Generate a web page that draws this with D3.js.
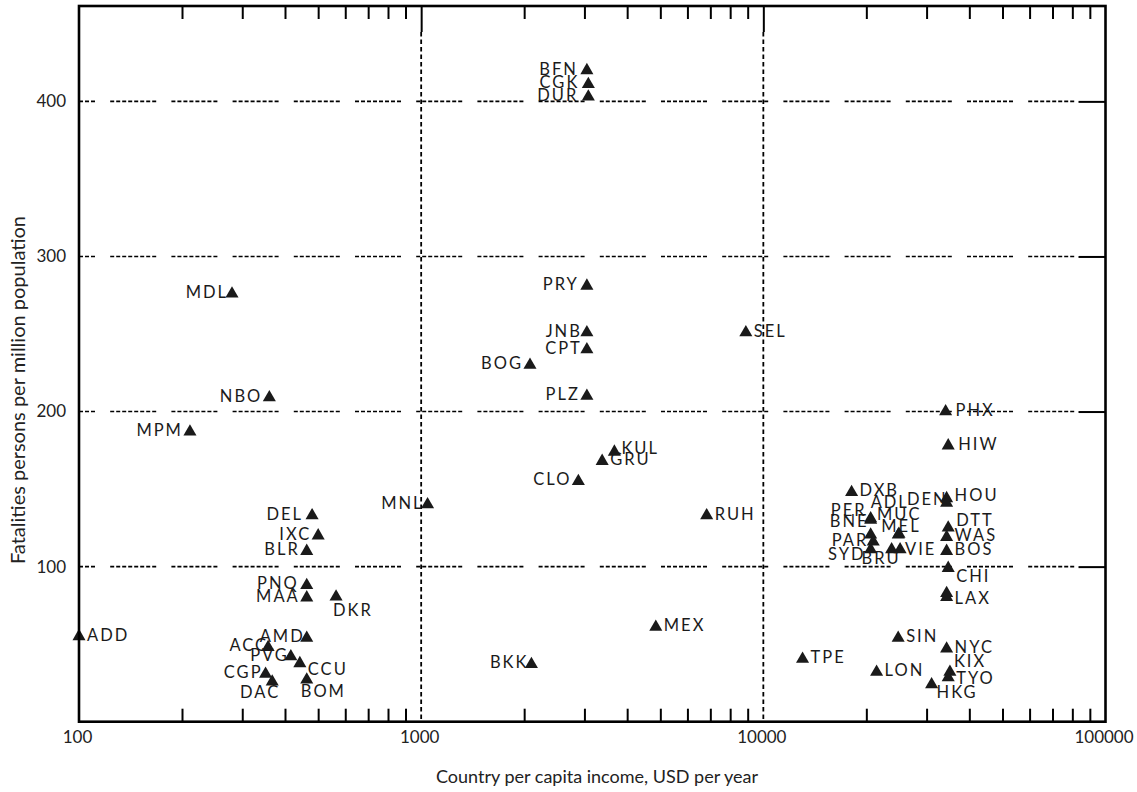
<!DOCTYPE html>
<html>
<head>
<meta charset="utf-8">
<script src="https://cdn.jsdelivr.net/npm/d3@7"></script>
<style>
  body { margin: 0; background: #fff; }
  svg { display: block; }
  .lbl { font-family: Lato, "Open Sans", sans-serif; font-size: 16.5px; letter-spacing: 2px; fill: #1b1b1b; }
  .tick text { font-family: Lato, sans-serif; font-size: 17px; fill: #222; }
  .title { font-family: Lato, sans-serif; fill: #222; }
</style>
</head>
<body>
<div id="chart"></div>
<script>
// city codes, per capita income (USD/yr), fatalities per million
const codes = [
  "BFN", "CGK", "DUR", "MDL", "PRY", "JNB", "CPT", "SEL", "BOG", "PLZ",
  "NBO", "MPM", "PHX", "HIW", "KUL", "GRU", "CLO", "MNL", "DEL", "RUH",
  "DXB", "HOU", "DEN", "ADL", "PER", "BNE", "PAR", "SYD", "BRU", "VIE",
  "MUC", "MEL", "DTT", "WAS", "BOS", "CHI", "LAX", "", "SIN", "NYC",
  "KIX", "TYO", "HKG", "LON", "TPE", "MEX", "BKK", "ADD", "AMD", "ACC",
  "PVG", "CCU", "CGP", "DAC", "BOM", "IXC", "BLR", "PNQ", "MAA", "DKR"
]
const income = [
  3050, 3080, 3080, 280, 3050, 3050, 3050, 8890, 2080, 3050,
  360, 211, 34100, 34700, 3670, 3380, 2880, 1044, 480, 6830,
  18110, 34330, 34330, 20590, 20590, 20590, 20950, 20590, 23710, 25100,
  24910, 24800, 34700, 34330, 34330, 34700, 34330, 34330, 24780, 34330,
  35100, 34700, 31030, 21430, 13020, 4850, 2100, 100, 463, 357,
  416, 442, 351, 367, 463, 500, 463, 463, 463, 564
]
const fatalities = [
  420, 411, 403, 276, 281, 251, 240, 251, 230, 210,
  209, 187, 200, 178, 174, 168, 155, 140, 133, 133,
  148, 144, 141, 131, 130, 120.5, 116, 111, 111, 111,
  121, 120.5, 125, 119, 110, 99, 80.2, 82.8, 54, 47,
  32, 28.5, 24, 32, 40.4, 61, 37, 55, 54, 48,
  42, 37.6, 30.7, 25.8, 27, 120, 110, 88, 80, 80.6
]
const xTickLabels = [100, 1000, 10000, 100000]
const yTickLabels = [100, 200, 300, 400]

// label placement next to each triangle: [anchor, dx, dy]
const L = ["end", -7, 0], R = ["start", 8, 0]
const placement = {
  BFN: ["end", -9, 0], CGK: ["end", -9, 0], DUR: ["end", -10, 0], PRY: ["end", -8, 0],
  DEL: ["end", -9, 0], PNQ: ["end", -8, 0],
  ADL: ["start", 0, -15], PER: ["end", -4, -8], BNE: ["end", -2, -12],
  PAR: ["end", -5, 0], SYD: ["end", -5, 6], BRU: ["start", -30, 10],
  VIE: ["start", 5, 1], MUC: ["start", -22, -18], MEL: ["start", -17, -7],
  DEN: ["end", 1, -2], HOU: ["start", 8, -2], DTT: ["start", 8, -6],
  CHI: ["start", 8, 10], LAX: ["start", 8, 3], KIX: ["start", 4, -9],
  TYO: ["start", 8, 2], HKG: ["start", 5, 9], CCU: ["start", 8, 7],
  DAC: ["end", 8, 12], BOM: ["start", -6, 13], DKR: ["start", -3, 15],
  AMD: ["end", -2, 0], ACC: ["end", 0, 0], PVG: ["end", -2, 0],
  CGP: ["end", -3, 0], BKK: ["end", -3, 0], KUL: ["start", 7, -2],
  MDL: ["end", -4, 0], CPT: ["end", -5, 0], JNB: ["end", -5, 0], MNL: ["end", -4, 0],
  SEL: R, GRU: R, RUH: R, MEX: R, ADD: R, TPE: R, LON: R, SIN: R,
  NYC: R, DXB: R, PHX: ["start", 10, 0], HIW: ["start", 10, 0], WAS: R, BOS: R
}

const W = 1137, H = 792
const plotL = 79, plotR = 1105.5, plotT = 6, plotB = 721.7

const svg = d3.select("#chart").append("svg")
  .attr("width", W).attr("height", H)

const x = d3.scaleLog().domain([100, 100000]).range([plotL, plotR])
const y = d3.scaleLinear().domain([0, 461.5]).range([plotB, plotT])

// horizontal dashed grid
const hDash = d3.range(7).map(() => "4,2").join(",") + ",4,15.2"
svg.append("g")
  .selectAll("line")
  .data(yTickLabels)
  .join("line")
  .attr("x1", plotL).attr("x2", plotR - 27)
  .attr("y1", d => y(d)).attr("y2", d => y(d))
  .attr("stroke", "#000").attr("stroke-width", 1.6)
  .attr("stroke-dasharray", hDash)
  .attr("stroke-dashoffset", 30)

// vertical dotted grid at 1000 and 10000
svg.append("g")
  .selectAll("line")
  .data([1000, 10000])
  .join("line")
  .attr("x1", d => x(d)).attr("x2", d => x(d))
  .attr("y1", plotT + 26).attr("y2", plotB)
  .attr("stroke", "#000").attr("stroke-width", 1.8)
  .attr("stroke-dasharray", "4.5,3")

// minor ticks, top and bottom
const minor = x.ticks().filter(d => !xTickLabels.includes(d))
svg.append("g")
  .attr("transform", `translate(0,${plotB})`)
  .call(d3.axisBottom(x).tickValues(minor).tickSize(-13).tickFormat(""))
  .call(g => g.select(".domain").remove())
  .selectAll("line").attr("stroke-width", 2)
svg.append("g")
  .attr("transform", `translate(0,${plotT})`)
  .call(d3.axisTop(x).tickValues(minor).tickSize(-13).tickFormat(""))
  .call(g => g.select(".domain").remove())
  .selectAll("line").attr("stroke-width", 2)
svg.append("g")
  .attr("transform", `translate(0,${plotT})`)
  .call(d3.axisTop(x).tickValues([1000, 10000]).tickSize(-26).tickFormat(""))
  .call(g => g.select(".domain").remove())
  .selectAll("line").attr("stroke-width", 2)

// right ticks
svg.append("g")
  .attr("transform", `translate(${plotR},0)`)
  .call(d3.axisRight(y).tickValues(yTickLabels).tickSize(-27).tickFormat(""))
  .call(g => g.select(".domain").remove())
  .selectAll("line").attr("stroke-width", 2)

// tick labels
svg.append("g")
  .attr("transform", `translate(0,${plotB})`)
  .call(d3.axisBottom(x).tickValues(xTickLabels).tickSize(0).tickPadding(9).tickFormat(d3.format("d")))
  .call(g => g.select(".domain").remove())
  .selectAll("text").attr("dx", -2)
svg.append("g")
  .attr("transform", `translate(${plotL},0)`)
  .call(d3.axisLeft(y).tickValues(yTickLabels).tickSize(0).tickPadding(13))
  .call(g => g.select(".domain").remove())

// points
svg.append("g")
  .selectAll("path")
  .data(codes)
  .join("path")
  .attr("d", d3.symbol(d3.symbolTriangle, 74))
  .attr("transform", (d, i) => `translate(${x(income[i])},${y(fatalities[i])})`)
  .attr("fill", "#1a1a1a")

svg.append("g")
  .selectAll("text")
  .data(codes)
  .join("text")
  .attr("class", "lbl")
  .each(function (d, i) {
    const p = placement[d] || L
    d3.select(this)
      .attr("x", x(income[i]) + p[1])
      .attr("y", y(fatalities[i]) + p[2])
      .attr("text-anchor", p[0])
      .attr("dominant-baseline", "middle")
      .text(d)
  })

// frame
svg.append("rect")
  .attr("x", plotL).attr("y", plotT)
  .attr("width", plotR - plotL).attr("height", plotB - plotT)
  .attr("fill", "none").attr("stroke", "#000").attr("stroke-width", 2.6)

// axis titles
svg.append("text")
  .attr("class", "title")
  .attr("x", 597).attr("y", 783)
  .attr("text-anchor", "middle")
  .style("font-size", "18px")
  .text("Country per capita income, USD per year")
svg.append("text")
  .attr("class", "title")
  .attr("transform", "translate(25,390) rotate(-90)")
  .attr("text-anchor", "middle")
  .style("font-size", "20px")
  .text("Fatalities persons per million population")
</script>
</body>
</html>
